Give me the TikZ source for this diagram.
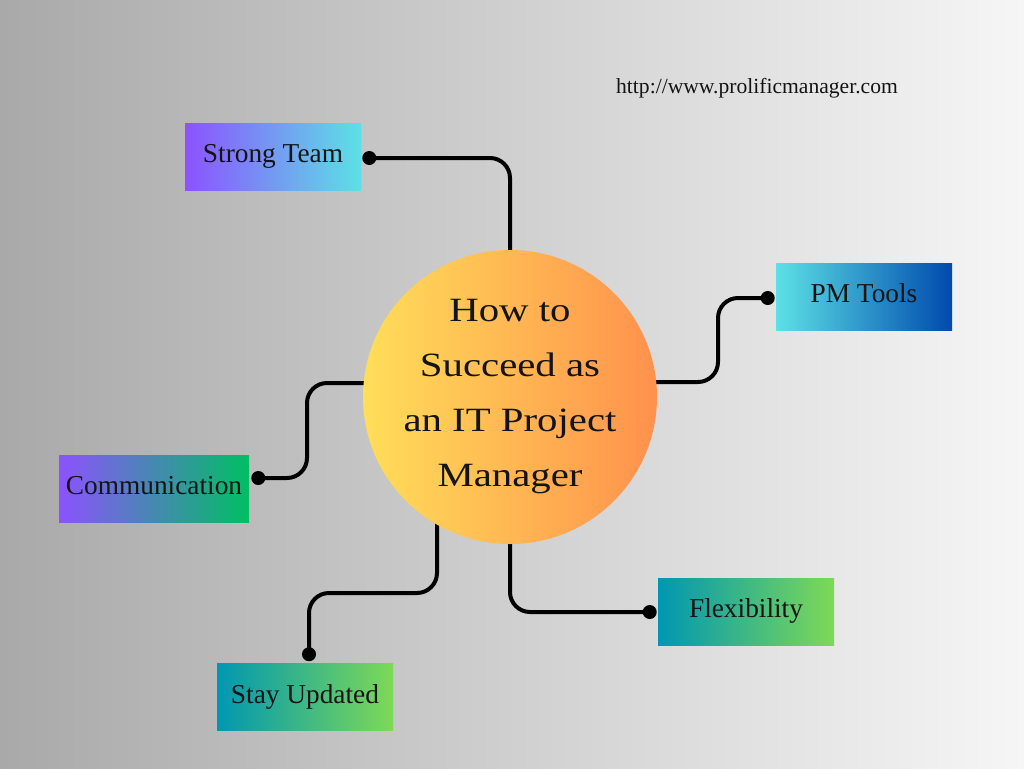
\documentclass[tikz,border=0pt]{standalone}
\usepackage{fontspec}
\setmainfont{Liberation Serif}
\newfontfamily\circfont{Liberation Serif}[FakeStretch=1.2]
\usetikzlibrary{calc}
\definecolor{bgL}{HTML}{A9A9A9}
\definecolor{bgR}{HTML}{F6F6F6}
\definecolor{cL}{HTML}{FFDE59}
\definecolor{cR}{HTML}{FF914D}
\definecolor{purp}{HTML}{8C52FF}
\definecolor{cyan1}{HTML}{5CE1E6}
\definecolor{blue1}{HTML}{004AAD}
\definecolor{green1}{HTML}{00BF63}
\definecolor{teal1}{HTML}{0097B2}
\definecolor{lime1}{HTML}{7ED957}
\definecolor{ink}{HTML}{141414}
\pgfdeclarelayer{bglayer}
\pgfdeclarelayer{lines}
\pgfsetlayers{bglayer,lines,main}
\begin{document}
\begin{tikzpicture}[x=0.75pt,y=-0.75pt,
  box/.style={minimum width=132pt, minimum height=50.25pt, inner sep=0pt,
    text height=13.7pt, text depth=4.4pt,
    font=\fontsize{20.5}{25}\selectfont, text=ink},
  conn/.style={line width=3pt, rounded corners=15pt, black},
  dotnode/.style={circle, fill=black, minimum size=10.5pt, inner sep=0pt}]
\useasboundingbox (0,0) rectangle (1024,768);
\begin{pgfonlayer}{bglayer}
\shade[left color=bgL, right color=bgR] (0,0) rectangle (1024,768);
\end{pgfonlayer}

% central circle
\node[circle, minimum size=220.5pt, inner sep=0pt, left color=cL, right color=cR,
  align=center, text=ink, font=\circfont\fontsize{25.5}{41.25}\selectfont] (c) at (510,397)
  {How to\\Succeed as\\an IT Project\\Manager};

% boxes
\node[box, left color=purp, right color=cyan1] (st) at (273,156.5) {Strong Team};
\node[box, left color=cyan1, right color=blue1] (pm) at (864,296.5) {PM Tools};
\node[box, minimum width=142.5pt, left color=purp, right color=green1] (cm) at (154,488.5) {Communication};
\node[box, left color=teal1, right color=lime1] (fx) at (746,611.5) {Flexibility};
\node[box, left color=teal1, right color=lime1] (su) at (305,697) {Stay Updated};

\node[font=\fontsize{16.2}{19}\selectfont, text=ink] (url) at (757,88) {http://www.prolificmanager.com};

% dots
\node[dotnode] (d1) at ($(st.east)+(8,1.5)$) {};
\node[dotnode] (d2) at ($(pm.west)+(-8,1.5)$) {};
\node[dotnode] (d3) at ($(cm.east)+(9,-10.5)$) {};
\node[dotnode] (d4) at ($(fx.west)+(-8,0.5)$) {};
\node[dotnode] (d5) at ($(su.north)+(4,-9)$) {};

% connectors
\begin{pgfonlayer}{lines}
\draw[conn] (d1.center) -- (510,158) -- (c.center);
\draw[conn] (d2.center) -- (718,298) -- (718,382) -- ($(c.center)+(0,-15)$);
\draw[conn] (d3.center) -- (307,478) -- (307,383) -- ($(c.center)+(0,-14)$);
\draw[conn] (c.center) -- (510,612) -- (d4.center);
\draw[conn] (d5.center) -- (309,593) -- (437,593) -- ($(c.center)+(-73,98)$);
\end{pgfonlayer}
\end{tikzpicture}
\end{document}
